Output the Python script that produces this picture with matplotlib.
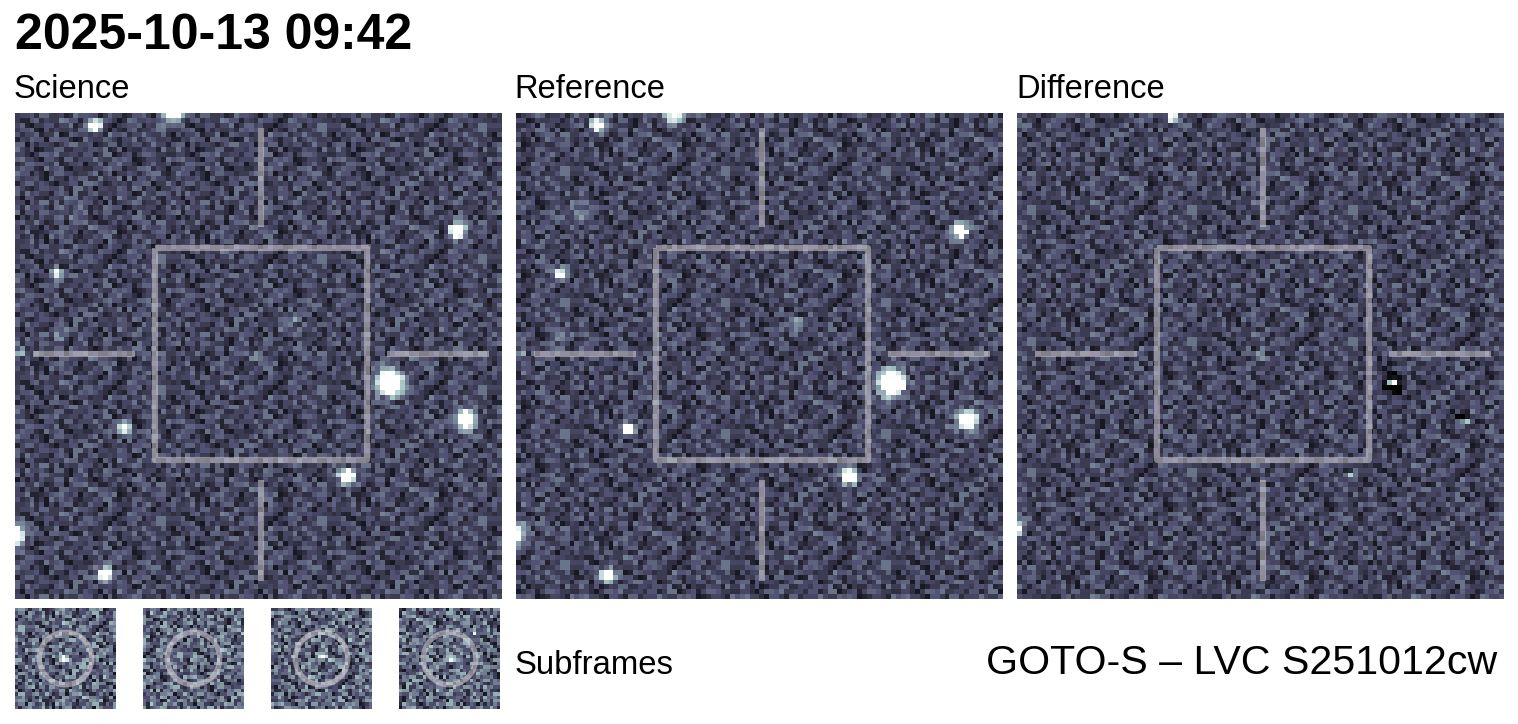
import matplotlib
matplotlib.use('Agg')
import matplotlib.pyplot as plt
from matplotlib.patches import Circle
import numpy as np

plt.rcParams['font.family'] = ['Liberation Sans', 'DejaVu Sans']

FIG_W = 1518
FIG_H = 724

title = '2025-10-13 09:42'
panel_names = ['Science', 'Reference', 'Difference']
footer = 'GOTO-S \u2013 LVC S251012cw'

# hand typed background texture, digit = brightness step
noise_rows = [
    '344526633412755430364412556304425',
    '311562433875514326553027644544332',
    '461033552447136645220345561437744',
    '355610524334265653204215623357733',
    '524461337016544233185562447433620',
    '143655066552017433653144724653341',
    '660524431357744502366143552374415',
    '742501336622443554712603225441733',
    '442036657334425513770245146653322',
    '674420553166244474336565012443175',
    '236655437124450336155744203463351',
    '465521745610332244675513366724304',
    '755142036644233571460335424677213',
    '534452063315466227344707155364423',
    '146635420335517764124342556603374',
    '642135544621773504433652761440335',
    '627453315640722563343554017436652',
    '305522144376625430641853374462153',
    '440537726143365524061345762335147',
    '527445316620374132765501433441362',
    '715526643320447153662235074413356',
    '041425336617544202533644775160243',
    '563374125504667341135240456627733',
    '415330521664432875543126037544632',
    '447112356743504326657013342256641',
    '523613074645213354772142664335506',
    '334725041566132644075333625741456',
]
noise_tile = np.array([[int(c) for c in row[:33]] for row in noise_rows], dtype=float)

# star lists, pixel x, pixel y, peak, width
science_stars = [
    (15.9, 2.0, 1.3, 0.85), (32.0, -1.0, 1.3, 1.4), (90.3, 23.7, 1.5, 1.0),
    (8.1, 32.6, 0.9, 0.7), (76.5, 55.0, 2.0, 1.6), (91.9, 62.6, 1.6, 1.2),
    (22.1, 64.4, 1.0, 0.8), (67.7, 74.3, 1.5, 1.0), (18.0, 94.4, 1.3, 0.95),
    (-0.5, 86.2, 1.0, 1.4), (0.5, 48.6, 0.4, 0.8), (56.4, 42.4, 0.25, 1.0),
    (49.6, 49.0, 0.35, 0.7), (8.7, 45.1, 0.25, 1.0), (10.8, 19.4, 0.15, 1.5),
]
reference_stars = [
    (16.2, 2.0, 1.3, 0.85), (32.0, -1.0, 1.3, 1.4), (90.6, 23.7, 1.5, 1.0),
    (8.4, 32.6, 0.9, 0.8), (76.6, 55.0, 2.0, 1.6), (92.2, 62.6, 1.6, 1.2),
    (22.4, 64.4, 1.2, 0.8), (68.0, 74.3, 1.5, 1.0), (18.3, 94.6, 1.3, 0.95),
    (-0.5, 86.2, 0.8, 1.6), (57.0, 43.1, 0.35, 1.0), (12.0, 20.0, 0.25, 1.4),
    (9.0, 45.3, 0.3, 1.0), (0.5, 48.6, 0.25, 0.9),
]
difference_stars = [
    (76.6, 55.0, 2.4, 0.5), (76.6, 55.0, -0.75, 1.2), (91.6, 63.0, 0.6, 0.45),
    (90.8, 62.0, -0.5, 0.6), (67.7, 74.3, 0.7, 0.4), (67.7, 73.2, -0.35, 0.5),
    (31.3, 0.2, 1.4, 0.6), (49.6, 49.0, 0.35, 0.7), (-0.3, 85.0, 1.5, 0.7),
]
subframe_rolls = [(3, 5), (11, 14), (19, 2), (7, 23)]
subframe_stars = [
    [(14.5, 14.5, 0.6, 1.0), (20.0, 15.7, 0.55, 0.4)],
    [(14.8, 14.8, 0.35, 0.7)],
    [(14.8, 14.0, 0.5, 0.8)],
    [(14.6, 14.6, 0.65, 0.9), (22.0, 7.0, 0.45, 0.5)],
]
panel_rolls = [(0, 0), (9, 13), (17, 6)]


def make_image(size, roll, stars, base, step):
    reps = (size // noise_tile.shape[0] + 2, size // noise_tile.shape[1] + 2)
    img = np.roll(np.tile(noise_tile, reps), roll, axis=(0, 1))[:size, :size]
    img = base + img * step
    yy, xx = np.mgrid[0:size, 0:size]
    for x, y, peak, width in stars:
        img += peak * np.exp(-((xx - x) ** 2 + (yy - y) ** 2) / (2 * width ** 2))
    return img


def add_axes_px(fig, left, top, right, bottom):
    ax = fig.add_axes([left / FIG_W, 1 - bottom / FIG_H, (right - left) / FIG_W, (bottom - top) / FIG_H])
    ax.set_axis_off()
    return ax


def draw_marker(ax):
    # central box and four ticks
    style = dict(color='#d8d4d8', alpha=0.52, lw=4.4, solid_capstyle='butt')
    ax.plot([28.2, 71.8, 71.8, 28.2, 28.2], [27.2, 27.2, 70.8, 70.8, 27.2], **style)
    ax.plot([3.2, 24.2], [49.1, 49.1], **style)
    ax.plot([75.9, 96.8], [49.1, 49.1], **style)
    ax.plot([50.0, 50.0], [2.5, 23.0], **style)
    ax.plot([50.0, 50.0], [75.0, 95.7], **style)


fig = plt.figure(figsize=(FIG_W / 100, FIG_H / 100), dpi=100)

panel_stars = [science_stars, reference_stars, difference_stars]
panel_left = [15, 516, 1017]
for i in range(3):
    ax = add_axes_px(fig, panel_left[i], 113, panel_left[i] + 487, 599)
    img = make_image(100, panel_rolls[i], panel_stars[i], 0.11, 0.052)
    ax.imshow(img, cmap='bone', vmin=0, vmax=1, interpolation='nearest', aspect='auto')
    draw_marker(ax)
    ax.set_xlim(-0.5, 99.5)
    ax.set_ylim(99.5, -0.5)
    fig.text((panel_left[i] - 1 - (i == 1)) / FIG_W, 1 - 90 / FIG_H, panel_names[i], fontsize=23.6,
             ha='left', va='center')

sub_left = [15, 143, 271, 399]
for i in range(4):
    ax = add_axes_px(fig, sub_left[i], 608, sub_left[i] + 101, 709)
    img = make_image(30, subframe_rolls[i], subframe_stars[i], 0.11, 0.08)
    ax.imshow(img, cmap='bone', vmin=0, vmax=1, interpolation='nearest', aspect='auto')
    ax.add_patch(Circle((14.5, 14.5), 7.8, fill=False, ec='#d8d4d8', alpha=0.55, lw=3.8))
    ax.set_xlim(-0.5, 29.5)
    ax.set_ylim(29.5, -0.5)

fig.text(15 / FIG_W, 1 - 36 / FIG_H, title, fontsize=36, fontweight='bold', ha='left', va='center')
fig.text(515 / FIG_W, 1 - 666 / FIG_H, 'Subframes', fontsize=23.7, ha='left', va='center')
fig.text(1497 / FIG_W, 1 - 663 / FIG_H, footer, fontsize=29.6, ha='right', va='center')

fig.savefig('out.png', dpi=100)
